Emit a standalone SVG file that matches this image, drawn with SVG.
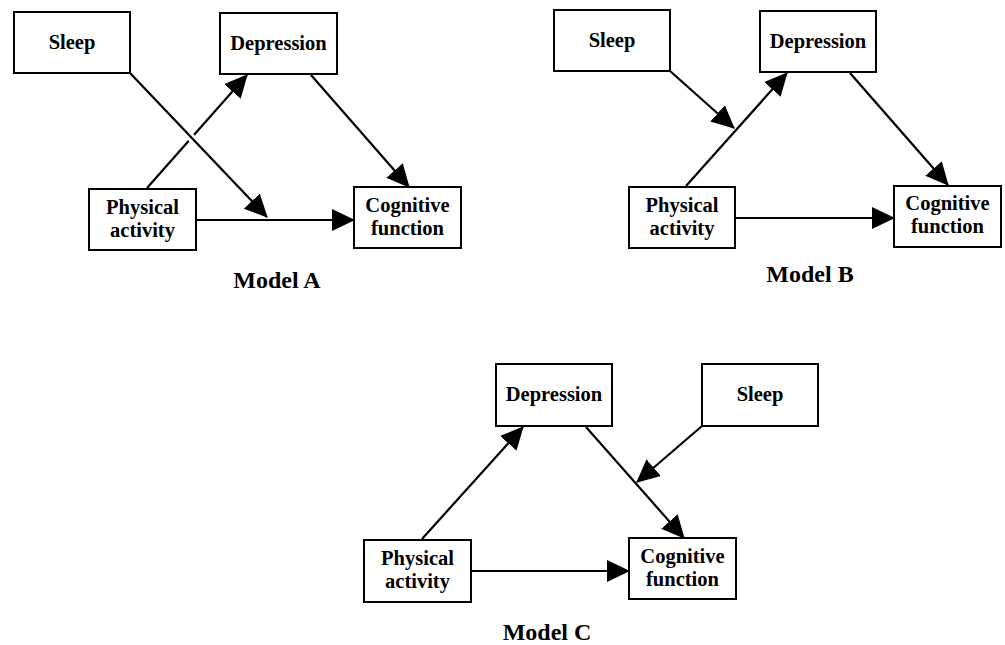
<svg xmlns="http://www.w3.org/2000/svg" width="1005" height="645" viewBox="0 0 1005 645">
<defs>
<marker id="ah" markerUnits="userSpaceOnUse" markerWidth="24" markerHeight="24" viewBox="0 0 24 24" refX="22" refY="11" orient="auto">
<path d="M0,0 L23,11 L0,22 z" fill="#000"/>
</marker>
<style>
.box{fill:#fff;stroke:#000;stroke-width:2}
.t{font-family:"Liberation Serif","Times New Roman",serif;font-weight:bold;font-size:20.5px;text-anchor:middle;fill:#000}
.m{font-family:"Liberation Serif","Times New Roman",serif;font-weight:bold;font-size:24px;text-anchor:middle;fill:#000}
.c{stroke:#000;stroke-width:2.2;fill:none;marker-end:url(#ah)}
</style>
</defs>
<rect width="1005" height="645" fill="#fff"/>
<g id="connectors">
<!-- Model A -->
<line class="c" x1="147" y1="188" x2="247" y2="75"/>
<line x1="180" y1="126" x2="203" y2="150" stroke="#fff" stroke-width="8"/>
<line class="c" x1="130" y1="73" x2="267" y2="217"/>
<line class="c" x1="196" y1="220" x2="354" y2="220"/>
<line class="c" x1="311" y1="75" x2="409" y2="187"/>
<!-- Model B -->
<line class="c" x1="670" y1="71" x2="734" y2="128"/>
<line class="c" x1="686" y1="186" x2="787" y2="73"/>
<line class="c" x1="850" y1="73" x2="948" y2="185"/>
<line class="c" x1="735" y1="218" x2="894" y2="218"/>
<!-- Model C -->
<line class="c" x1="422" y1="539" x2="523" y2="427"/>
<line class="c" x1="586" y1="427" x2="684" y2="538"/>
<line class="c" x1="702" y1="426" x2="637" y2="482"/>
<line class="c" x1="471" y1="571" x2="629" y2="571"/>
</g>
<g id="A-sleep"><rect class="box" x="14" y="12" width="116" height="61"/><text class="t" x="72" y="49">Sleep</text></g>
<g id="A-depression"><rect class="box" x="220" y="13" width="117" height="61"/><text class="t" x="278.5" y="50">Depression</text></g>
<g id="A-physical"><rect class="box" x="89" y="189" width="107" height="61"/><text class="t" x="142.5" y="214">Physical</text><text class="t" x="142.5" y="237">activity</text></g>
<g id="A-cognitive"><rect class="box" x="354" y="187" width="107" height="61"/><text class="t" x="407.5" y="212">Cognitive</text><text class="t" x="407.5" y="235">function</text></g>
<g id="A-label"><text class="m" x="277" y="288">Model A</text></g>

<g id="B-sleep"><rect class="box" x="554" y="10" width="116" height="61"/><text class="t" x="612" y="47">Sleep</text></g>
<g id="B-depression"><rect class="box" x="760" y="11" width="116" height="61"/><text class="t" x="818" y="48">Depression</text></g>
<g id="B-physical"><rect class="box" x="629" y="187" width="106" height="61"/><text class="t" x="682" y="212">Physical</text><text class="t" x="682" y="235">activity</text></g>
<g id="B-cognitive"><rect class="box" x="894" y="186" width="107" height="61"/><text class="t" x="947.5" y="210">Cognitive</text><text class="t" x="947.5" y="233">function</text></g>
<g id="B-label"><text class="m" x="810" y="282">Model B</text></g>

<g id="C-depression"><rect class="box" x="496" y="364" width="116" height="62"/><text class="t" x="554" y="401">Depression</text></g>
<g id="C-sleep"><rect class="box" x="702" y="364" width="116" height="62"/><text class="t" x="760" y="401">Sleep</text></g>
<g id="C-physical"><rect class="box" x="364" y="540" width="107" height="62"/><text class="t" x="417.5" y="565">Physical</text><text class="t" x="417.5" y="588">activity</text></g>
<g id="C-cognitive"><rect class="box" x="629" y="538" width="107" height="61"/><text class="t" x="682.5" y="563">Cognitive</text><text class="t" x="682.5" y="586">function</text></g>
<g id="C-label"><text class="m" x="547" y="640">Model C</text></g>
</svg>
